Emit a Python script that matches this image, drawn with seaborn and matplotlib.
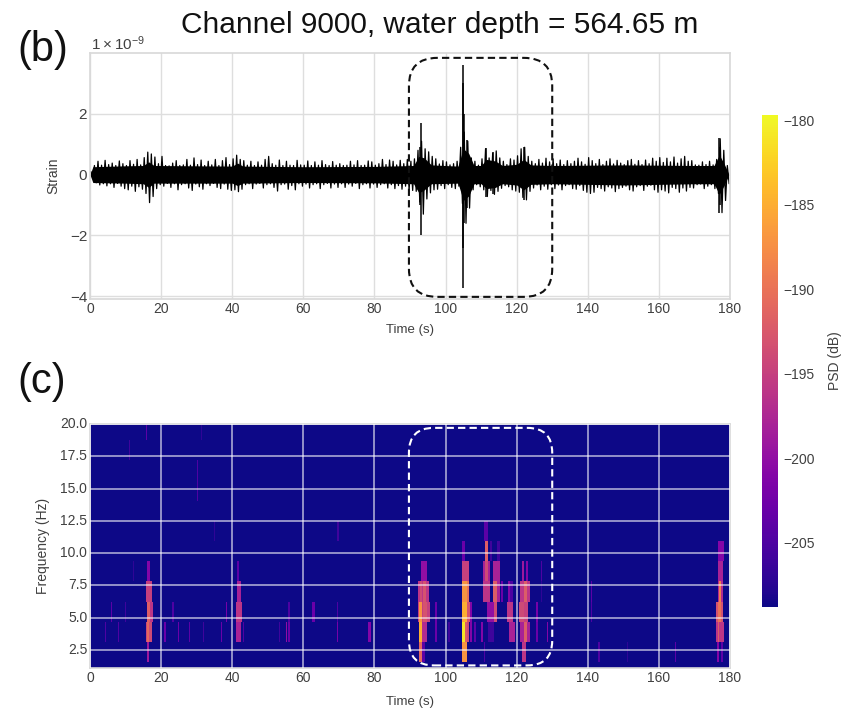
import numpy as np
import pandas as pd
import matplotlib.pyplot as plt
import seaborn as sns
from matplotlib.patches import FancyBboxPatch

# strain peaks, one per second, in units of 1e-9
strain_top = [.10,.30,.44,.31,.47,.33,.38,.30,.45,.36,
              .30,.46,.34,.50,.32,.56,.74,.68,.58,.36,
              .60,.30,.29,.38,.46,.30,.32,.50,.31,.55,
              .33,.48,.30,.44,.32,.50,.30,.46,.56,.33,
              .52,.64,.50,.46,.31,.44,.30,.42,.31,.50,
              .60,.36,.31,.48,.30,.44,.31,.30,.47,.32,
              .31,.45,.30,.42,.31,.46,.33,.30,.43,.31,
              .36,.30,.31,.44,.32,.46,.30,.31,.45,.42,
              .31,.36,.50,.33,.48,.44,.32,.47,.36,.50,
              .44,.52,.80,1.10,.85,.75,.60,.52,.35,.46,
              .42,.32,.36,.44,.90,1.40,1.10,.55,.44,.31,
              .52,.85,.55,.70,.78,.55,.44,.33,.52,.48,
              .62,.85,.90,.60,.44,.36,.50,.38,.54,.42,
              .52,.36,.48,.33,.46,.36,.44,.54,.42,.34,
              .56,.46,.36,.50,.33,.44,.52,.35,.47,.38,
              .33,.46,.50,.34,.46,.33,.48,.36,.54,.44,
              .56,.40,.54,.42,.58,.38,.52,.60,.44,.46,
              .32,.31,.42,.33,.44,.32,.50,1.18,.80,.30]
strain_bot = [-.10,-.27,-.34,-.30,-.37,-.30,-.42,-.29,-.38,-.46,
              -.50,-.38,-.55,-.40,-.48,-.62,-.92,-.72,-.46,-.33,
              -.38,-.29,-.42,-.30,-.50,-.33,-.30,-.44,-.52,-.31,
              -.40,-.48,-.30,-.36,-.29,-.42,-.46,-.31,-.48,-.52,
              -.50,-.56,-.48,-.33,-.30,-.46,-.31,-.29,-.44,-.33,
              -.30,-.42,-.54,-.33,-.31,-.48,-.36,-.50,-.30,-.38,
              -.31,-.44,-.33,-.30,-.46,-.33,-.29,-.44,-.31,-.42,
              -.30,-.42,-.31,-.38,-.29,-.46,-.33,-.30,-.44,-.31,
              -.42,-.33,-.30,-.44,-.33,-.46,-.36,-.48,-.38,-.50,
              -.52,-.55,-.90,-1.30,-.80,-.60,-.50,-.48,-.36,-.46,
              -.33,-.42,-.46,-.38,-.95,-1.60,-1.10,-.50,-.33,-.40,
              -.50,-.72,-.52,-.65,-.55,-.45,-.36,-.40,-.50,-.54,
              -.58,-.75,-.83,-.55,-.44,-.34,-.50,-.38,-.48,-.33,
              -.46,-.34,-.50,-.36,-.33,-.46,-.48,-.36,-.52,-.58,
              -.62,-.58,-.42,-.46,-.54,-.40,-.44,-.56,-.46,-.42,
              -.38,-.50,-.54,-.40,-.36,-.52,-.38,-.35,-.50,-.58,
              -.50,-.54,-.60,-.42,-.46,-.58,-.44,-.54,-.42,-.44,
              -.33,-.31,-.46,-.38,-.33,-.46,-.62,-1.25,-.85,-.30]

# solid middle of the trace
core_time = [0, .8, 10, 15, 16.5, 18, 40, 41.5, 43, 60, 80, 91, 92.5, 94, 96, 103.5, 105, 106.5, 108,
             110, 111.5, 114, 116, 120, 122, 124, 130, 150, 170, 175.5, 177, 178.5, 179.7]
core_top = [0, .26, .29, .30, .42, .30, .28, .38, .28, .26, .27, .30, .60, .55, .32, .28, .85, .70, .30,
            .30, .50, .45, .30, .34, .50, .32, .30, .32, .30, .30, .65, .32, 0]
core_bot = [0, -.26, -.28, -.30, -.42, -.28, -.28, -.36, -.28, -.26, -.27, -.30, -.60, -.50, -.30, -.28, -.85, -.70, -.30,
            -.30, -.46, -.42, -.30, -.34, -.50, -.32, -.30, -.34, -.30, -.30, -.65, -.32, 0]

# the thin spikes that stick out of the per-second peaks
spike_time = [93.1, 92.7, 105.0, 104.9, 105.2, 105.9, 111.3, 113.3, 122.0, 176.8, 177.2]
spike_top = [1.71, .9, 3.6, 3.0, 2.0, 1.14, .88, .76, .90, 1.2, .9]
spike_bot = [-1.98, -1.0, -3.73, -2.4, -1.6, -1.1, -.72, -.65, -.83, -1.25, -1.0]

# spectrogram patches: start (s), end (s), frequency row, PSD (dB)
# first the faint lines
patch_start = [4.3,6.0,7.9,9.8,11.9,18.9,20.8,23.1,24.8,27.8,31.8,36.7,38.2,43.0,53.3,55.0,55.0,55.8,55.8,62.4,69.5,69.5,78.2,
               15.7,11.0,31.2,30.0,30.0,30.3,34.9,69.6,61.7,
               # event at 16 s
               15.9,15.7,15.9,17.1,15.7,15.9,15.9,
               # event at 42 s
               41.3,41.3,41.0,41.0,41.4,
               # event at 93 s
               93.0,92.3,92.7,93.8,92.3,92.6,93.8,92.5,93.4,92.5,93.6,97.1,97.1,100.8,
               # event at 105 s
               104.8,104.6,104.5,104.5,104.8,106.1,104.5,104.8,106.0,104.5,107.1,107.1,108.1,110.0,110.8,
               # events at 112-120 s
               110.8,111.1,110.5,111.1,110.5,111.8,112.0,112.4,113.2,113.3,114.4,113.4,114.6,115.5,117.4,118.1,117.2,117.7,
               # event at 122 s
               121.4,122.5,121.0,122.0,120.8,122.0,121.0,122.0,121.4,125.4,125.4,126.8,126.8,128.4,
               # after the box
               140.9,140.9,140.4,143.1,150.9,164.4,
               # event at 177 s
               176.7,176.5,176.5,176.9,175.9,176.5,175.9,176.5,176.2,177.5]
patch_end = [4.6,6.3,8.2,10.1,12.2,19.2,21.2,23.4,25.1,28.1,32.1,37.0,38.6,43.3,53.6,55.4,55.3,56.2,56.2,63.2,69.8,69.8,78.9,
             16.1,11.3,31.5,30.3,30.3,30.6,35.2,69.9,62.0,
             16.7,17.6,16.9,17.7,17.6,16.6,16.6,
             42.0,42.6,42.7,42.5,41.7,
             94.7,95.3,93.2,94.5,95.6,93.4,94.7,93.3,94.7,93.3,94.2,97.5,97.5,101.2,
             105.5,106.6,106.6,106.0,106.1,106.7,105.9,105.4,106.6,105.9,107.5,107.5,108.5,110.4,111.1,
             112.0,111.9,112.6,111.9,112.6,113.4,113.4,113.1,115.3,114.4,115.3,114.4,115.2,116.2,118.0,118.9,119.0,119.5,
             122.0,123.2,123.7,123.0,122.0,123.2,123.7,123.0,122.4,126.0,126.0,127.2,127.2,128.8,
             141.2,141.2,140.7,143.4,151.2,164.8,
             178.2,178.0,178.0,177.5,178.1,177.6,178.3,177.1,177.0,177.9]
patch_row = [2,3,2,3,5,1,2,3,2,2,2,2,3,2,2,2,1,3,2,3,2,3,2,
             12,11,12,10,9,7,7,7,12,
             5,4,3,3,2,2,1,
             5,4,3,2,1,
             5,4,4,4,3,3,3,2,2,1,1,3,2,2,
             6,5,4,4,3,3,2,2,2,1,3,2,2,2,1,
             7,6,5,5,4,3,2,6,5,4,4,3,6,4,4,4,3,2,
             5,5,4,4,3,3,2,2,1,3,2,5,4,2,
             4,3,2,1,1,1,
             6,5,4,4,3,3,2,2,1,1]
patch_db = [-205,-204,-205,-206,-207,-206,-203,-205,-203,-204,-206,-203,-202,-205,-206,-200,-204,-205,-203,-203,-202,-205,-201,
            -204,-206,-207,-205,-205,-206,-207,-206,-207,
            -201,-195,-192,-196,-194,-191,-199,
            -204,-198,-196,-198,-204,
            -200,-196,-194,-193,-195,-187,-193,-185,-197,-191,-204,-203,-203,-206,
            -203,-195,-190,-187,-185,-193,-192,-181,-194,-187,-201,-201,-204,-201,-205,
            -204,-192,-198,-194,-196,-200,-206,-206,-198,-192,-198,-194,-206,-203,-201,-205,-196,-198,
            -199,-201,-196,-192,-194,-195,-198,-192,-196,-202,-203,-205,-207,-201,
            -204,-205,-205,-205,-207,-204,
            -201,-198,-197,-189,-193,-190,-196,-192,-201,-204]

time_ticks = [0, 20, 40, 60, 80, 100, 120, 140, 160, 180]
strain_ticks = [-4, -2, 0, 2]
freq_ticks = [2.5, 5.0, 7.5, 10.0, 12.5, 15.0, 17.5, 20.0]
psd_ticks = [-205, -200, -195, -190, -185, -180]

PSD_MIN = -208.8
PSD_MAX = -179.7
FREQ_STEP = 1.5625
TIME_STEP = 0.25
FREQ_LOW = 1.1

W, H = 851, 713

sns.set_theme(style="whitegrid", rc={"axes.edgecolor": ".85", "grid.color": ".87"})
plt.rcParams["font.family"] = ["Liberation Sans", "DejaVu Sans"]
plt.rcParams["mathtext.fontset"] = "custom"
plt.rcParams["mathtext.rm"] = "Liberation Sans"
plt.rcParams["mathtext.default"] = "regular"
text_col = "#404040"

fig = plt.figure(figsize=(W / 100, H / 100), dpi=100)
ax_top = fig.add_axes([90 / W, 1 - 299 / H, 640 / W, 246 / H])
ax_bot = fig.add_axes([90 / W, 1 - 668 / H, 640 / W, 244 / H])
cax = fig.add_axes([762 / W, 1 - 607 / H, 16 / W, 492 / H])

# trace goes top, bottom, top, bottom ... half a second apart
seconds = np.arange(len(strain_top))
trace_t = np.column_stack([seconds + 0.25, seconds + 0.75]).ravel()
trace_y = np.column_stack([strain_top, strain_bot]).ravel()
ax_top.fill_between(core_time, core_bot, core_top, color="black", lw=0)
sns.lineplot(x=trace_t, y=trace_y, estimator=None, sort=False, color="black", lw=0.9, ax=ax_top)
ax_top.vlines(spike_time, spike_bot, spike_top, color="black", lw=1.1)

ax_top.set_xlim(0, 180)
ax_top.set_ylim(-4.09, 4.0)
ax_top.set_xticks(time_ticks)
ax_top.set_yticks(strain_ticks)
ax_top.text(0.3, 4.0, r"$1\times10^{-9}$", fontsize=11, color=text_col, va="bottom")
ax_top.add_patch(FancyBboxPatch((89.7, -4.02), 40.3, 7.86, boxstyle="round,pad=0,rounding_size=8",
                                mutation_aspect=0.115, fill=False, ec="#111111", lw=1.5,
                                ls=(0, (3.5, 2)), zorder=5))

# spectrogram table
n_rows = int(np.ceil(20 / FREQ_STEP))
n_cols = int(180 / TIME_STEP)
psd = np.full((n_rows, n_cols), PSD_MIN)
for start, end, row, db in zip(patch_start, patch_end, patch_row, patch_db):
    c0, c1 = int(round(start / TIME_STEP)), int(round(end / TIME_STEP))
    psd[row, c0:c1] = np.maximum(psd[row, c0:c1], db)
psd_table = pd.DataFrame(psd)

sns.heatmap(psd_table, cmap="plasma", vmin=PSD_MIN, vmax=PSD_MAX, ax=ax_bot, cbar_ax=cax,
            cbar_kws={"ticks": psd_ticks})
ax_bot.set_xlim(0, n_cols)
ax_bot.set_ylim(FREQ_LOW / FREQ_STEP, 20 / FREQ_STEP)
ax_bot.set_xticks([t / TIME_STEP for t in time_ticks])
ax_bot.set_xticklabels(time_ticks, rotation=0)
ax_bot.set_yticks([f / FREQ_STEP for f in freq_ticks])
ax_bot.set_yticklabels(["%.1f" % f for f in freq_ticks], rotation=0)
ax_bot.set_axisbelow(False)
ax_bot.grid(True, color="white", alpha=0.7, lw=1.1)
for spine in ax_bot.spines.values():
    spine.set_visible(True)
    spine.set_color(".85")
    spine.set_linewidth(1.2)
ax_bot.add_patch(FancyBboxPatch((89.7 / TIME_STEP, 1.3 / FREQ_STEP), 40.3 / TIME_STEP, 18.4 / FREQ_STEP,
                                boxstyle="round,pad=0,rounding_size=28", mutation_aspect=0.044,
                                fill=False, ec="white", lw=1.5, ls=(0, (3.5, 2)), zorder=5))

for ax in (ax_top, ax_bot):
    ax.tick_params(axis="both", labelsize=10, labelcolor=text_col, length=0, pad=2)
ax_top.set_xlabel("Time (s)", fontsize=9.5, color=text_col, labelpad=6)
ax_bot.set_xlabel("Time (s)", fontsize=9.5, color=text_col, labelpad=8)
ax_top.tick_params(axis="y", labelsize=11)
ax_top.set_ylabel("Strain", fontsize=10, color=text_col, labelpad=7)
ax_bot.set_ylabel("Frequency (Hz)", fontsize=10, color=text_col, labelpad=7)

cax.tick_params(labelsize=10, labelcolor=text_col, length=0, pad=4)
cax.set_ylabel("PSD (dB)", fontsize=10, color=text_col, labelpad=9)
cbar = ax_bot.collections[0].colorbar
cbar.outline.set_edgecolor(".85")

fig.text(440 / W, 1 - 25 / H, "Channel 9000, water depth = 564.65 m", fontsize=21.5, color="#111111",
         ha="center", va="center")
fig.text(17 / W, 1 - 50 / H, "(b)", fontsize=30, color="#111111", va="center")
fig.text(17 / W, 1 - 382 / H, "(c)", fontsize=30, color="#111111", va="center")

fig.savefig("out.png", dpi=100)
